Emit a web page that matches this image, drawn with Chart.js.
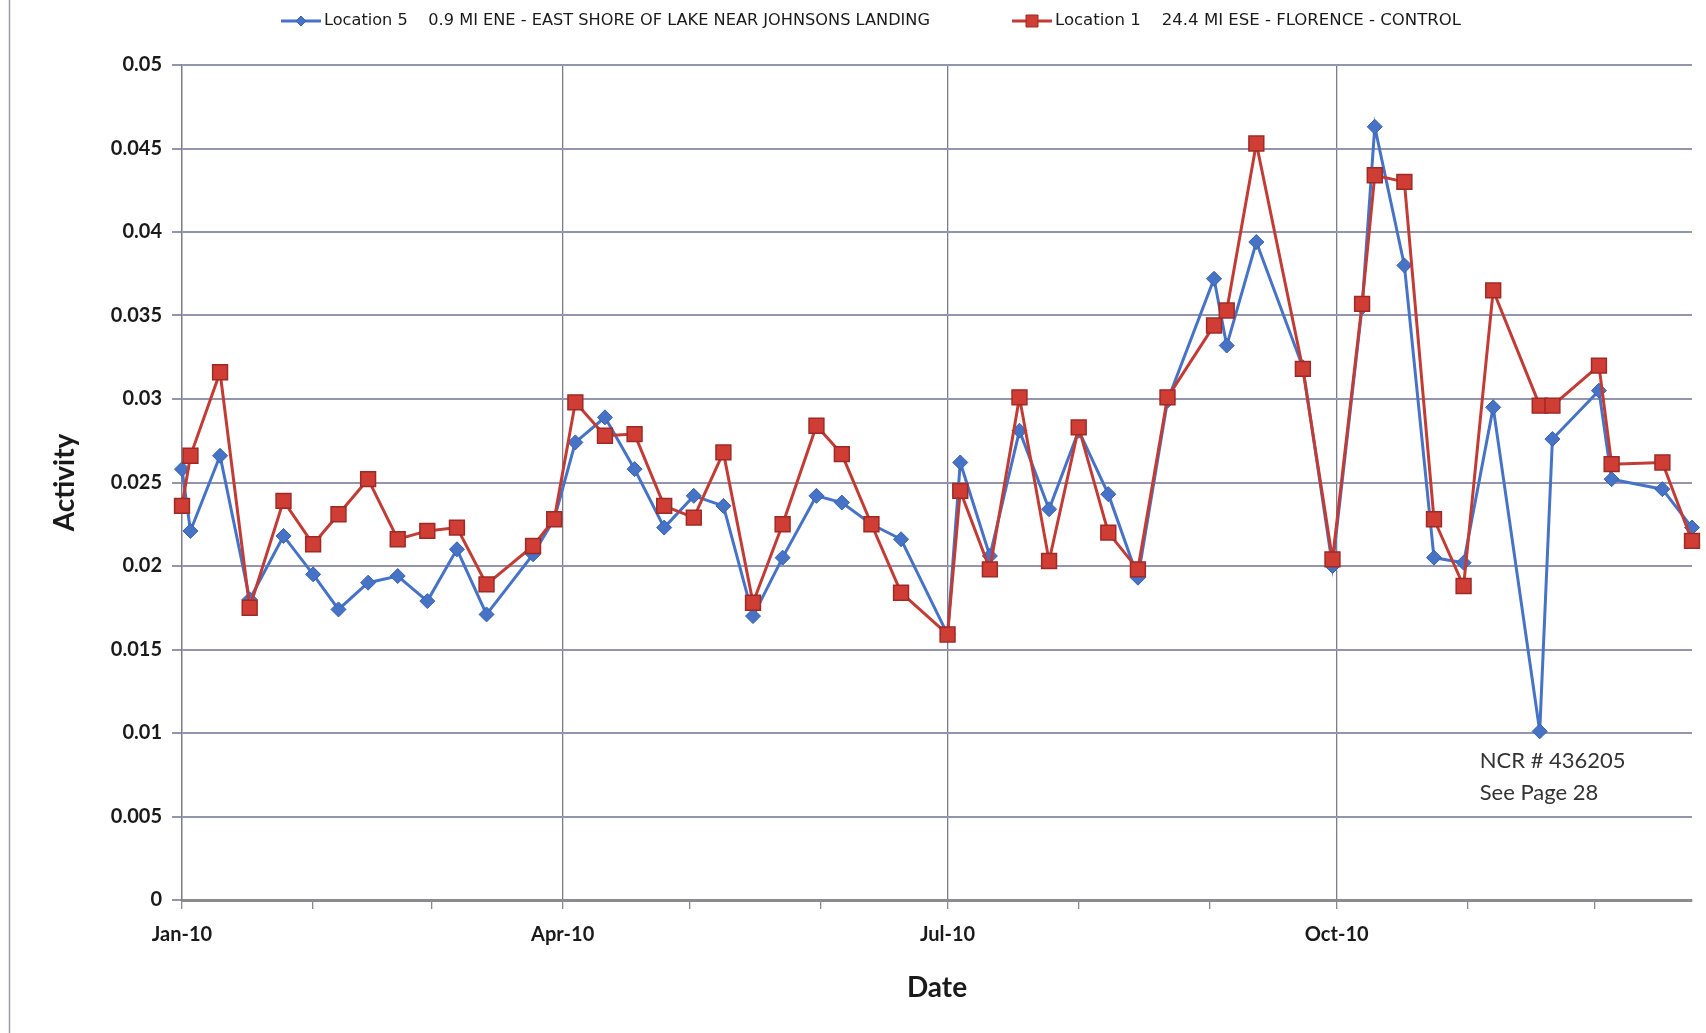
<!DOCTYPE html>
<html>
<head>
<meta charset="utf-8">
<title>Activity</title>
<script src="https://cdn.jsdelivr.net/npm/chart.js@4.4.0/dist/chart.umd.min.js"></script>
<style>
  html, body { margin: 0; padding: 0; background: #fff; }
</style>
</head>
<body>
<canvas id="g-activity" width="1706" height="1033"></canvas>
<script>
var sampleDates = [
    '2010-01-01', '2010-01-03', '2010-01-10', '2010-01-17', '2010-01-25', '2010-02-01', '2010-02-07', '2010-02-14',
    '2010-02-21', '2010-02-28', '2010-03-07', '2010-03-14', '2010-03-25', '2010-03-30', '2010-04-04', '2010-04-11',
    '2010-04-18', '2010-04-25', '2010-05-02', '2010-05-09', '2010-05-16', '2010-05-23', '2010-05-31', '2010-06-06',
    '2010-06-13', '2010-06-20', '2010-07-01', '2010-07-04', '2010-07-11', '2010-07-18', '2010-07-25', '2010-08-01',
    '2010-08-08', '2010-08-15', '2010-08-22', '2010-09-02', '2010-09-05', '2010-09-12', '2010-09-23', '2010-09-30',
    '2010-10-07', '2010-10-10', '2010-10-17', '2010-10-24', '2010-10-31', '2010-11-07', '2010-11-18', '2010-11-21',
    '2010-12-02', '2010-12-05', '2010-12-17', '2010-12-24'
];
var location5 = [
    0.0258, 0.0221, 0.0266, 0.0180, 0.0218, 0.0195, 0.0174, 0.0190, 0.0194, 0.0179, 0.0210, 0.0171, 0.0207,
    0.0228, 0.0274, 0.0289, 0.0258, 0.0223, 0.0242, 0.0236, 0.0170, 0.0205, 0.0242, 0.0238, 0.0225, 0.0216,
    0.0159, 0.0262, 0.0206, 0.0281, 0.0234, 0.0281, 0.0243, 0.0193, 0.0299, 0.0372, 0.0332, 0.0394, 0.0319,
    0.0200, 0.0355, 0.0463, 0.0380, 0.0205, 0.0202, 0.0295, 0.0101, 0.0276, 0.0305, 0.0252, 0.0246, 0.0223
];
var location1 = [
    0.0236, 0.0266, 0.0316, 0.0175, 0.0239, 0.0213, 0.0231, 0.0252, 0.0216, 0.0221, 0.0223, 0.0189, 0.0212,
    0.0228, 0.0298, 0.0278, 0.0279, 0.0236, 0.0229, 0.0268, 0.0178, 0.0225, 0.0284, 0.0267, 0.0225, 0.0184,
    0.0159, 0.0245, 0.0198, 0.0301, 0.0203, 0.0283, 0.0220, 0.0198, 0.0301, 0.0344, 0.0353, 0.0453, 0.0318,
    0.0204, 0.0357, 0.0434, 0.0430, 0.0228, 0.0188, 0.0365, 0.0296, 0.0296, 0.0320, 0.0261, 0.0262, 0.0215
];
var seriesNames = [
    'Location 5    0.9 MI ENE - EAST SHORE OF LAKE NEAR JOHNSONS LANDING',
    'Location 1    24.4 MI ESE - FLORENCE - CONTROL'
];
var quarterLabels = ['Jan-10', 'Apr-10', 'Jul-10', 'Oct-10'];
var yTicks = [0, 0.005, 0.01, 0.015, 0.02, 0.025, 0.03, 0.035, 0.04, 0.045, 0.05];
var noteDate = '2010-11-18';
var noteLines = ['NCR # 436205', 'See Page 28'];

var DAY = 86400000;
var yearStart = Date.UTC(2010, 0, 1);
function dayOf(s) {
    var p = s.split('-');
    return (Date.UTC(+p[0], +p[1] - 1, +p[2]) - yearStart) / DAY;
}
var xs = sampleDates.map(dayOf);
var monthStarts = [];
for (var m = 0; m < 12; m++) monthStarts.push((Date.UTC(2010, m, 1) - yearStart) / DAY);

function quarterOf(v) {
    var i = monthStarts.indexOf(v);
    return (i >= 0 && i % 3 === 0) ? i / 3 : -1;
}
function points(values) {
    return values.map(function (v, i) { return { x: xs[i], y: v }; });
}

var BLUE = '#4673c6';
var RED = '#c23b35';
var FONT = 'Lato, "Open Sans", sans-serif';

// white page + the thin frame line on the left
var framePlugin = {
    id: 'frame',
    beforeDraw: function (chart) {
        var ctx = chart.ctx;
        ctx.save();
        ctx.fillStyle = '#ffffff';
        ctx.fillRect(0, 0, chart.width, chart.height);
        ctx.strokeStyle = '#9a9aa8';
        ctx.lineWidth = 1.5;
        ctx.beginPath();
        ctx.moveTo(9.5, 0);
        ctx.lineTo(9.5, chart.height);
        ctx.stroke();
        ctx.restore();
    }
};

function drawMarker(ctx, style, x, y, r, fill, stroke) {
    ctx.fillStyle = fill;
    ctx.strokeStyle = stroke;
    ctx.lineWidth = 1;
    ctx.beginPath();
    if (style === 'rect') {
        ctx.rect(x - r, y - r, 2 * r, 2 * r);
    } else {
        ctx.moveTo(x, y - r);
        ctx.lineTo(x + r, y);
        ctx.lineTo(x, y + r);
        ctx.lineTo(x - r, y);
        ctx.closePath();
    }
    ctx.fill();
    ctx.stroke();
}

// legend with line + marker samples, like the spreadsheet legend
var legendPlugin = {
    id: 'lineLegend',
    afterDraw: function (chart) {
        var ctx = chart.ctx;
        var textWidths = [606, 406];
        var x = 281, y = 21, lineLen = 40, gap = 82;
        ctx.save();
        chart.data.datasets.forEach(function (ds, i) {
            ctx.strokeStyle = ds.borderColor;
            ctx.lineWidth = 3;
            ctx.beginPath();
            ctx.moveTo(x, y);
            ctx.lineTo(x + lineLen, y);
            ctx.stroke();
            drawMarker(ctx, ds.pointStyle, x + lineLen / 2, y, ds.pointStyle === 'rect' ? 6 : 5,
                ds.pointBackgroundColor, ds.pointBorderColor);

            ctx.font = '15px "Liberation Sans Narrow", "DejaVu Sans Condensed", sans-serif';
            ctx.fillStyle = '#1a1a1a';
            ctx.textBaseline = 'middle';
            ctx.textAlign = 'left';
            var w = ctx.measureText(ds.label).width;
            ctx.save();
            ctx.translate(x + lineLen + 3, y);
            ctx.scale(textWidths[i] / w, 1);
            ctx.fillText(ds.label, 0, 0);
            ctx.restore();
            x += lineLen + 3 + textWidths[i] + gap;
        });
        ctx.restore();
    }
};

// the note under the low Location 5 result
var notePlugin = {
    id: 'note',
    afterDatasetsDraw: function (chart) {
        var meta = chart.getDatasetMeta(0);
        var pt = meta.data[sampleDates.indexOf(noteDate)];
        if (!pt) return;
        var ctx = chart.ctx;
        ctx.save();
        ctx.font = '22px ' + FONT;
        ctx.fillStyle = '#333333';
        ctx.textAlign = 'left';
        ctx.textBaseline = 'middle';
        ctx.fillText(noteLines[0], pt.x - 60, pt.y + 30);
        ctx.fillText(noteLines[1], pt.x - 60, pt.y + 62);
        ctx.restore();
    }
};

var ctxActivity = document.getElementById('g-activity');

var gActivity = new Chart(ctxActivity, {
    type: 'line',
    data: {
        datasets: [
            {
                label: seriesNames[0],
                data: points(location5),
                order: 2,
                clip: false,
                borderColor: BLUE,
                borderWidth: 3,
                backgroundColor: BLUE,
                pointStyle: 'rectRot',
                pointRadius: 7.5,
                pointBackgroundColor: BLUE,
                pointBorderColor: '#3a62ad',
                pointBorderWidth: 1,
                tension: 0
            },
            {
                label: seriesNames[1],
                data: points(location1),
                order: 1,
                clip: false,
                borderColor: RED,
                borderWidth: 3,
                backgroundColor: RED,
                pointStyle: 'rect',
                pointRadius: 10.5,
                pointBackgroundColor: '#cf3d35',
                pointBorderColor: '#9e2a26',
                pointBorderWidth: 1.5,
                tension: 0
            }
        ]
    },

    options: {
        responsive: false,
        animation: false,
        layout: { padding: { left: 10, right: 14, top: 65, bottom: 0 } },
        plugins: {
            legend: { display: false },
            tooltip: { enabled: false }
        },
        scales: {
            x: {
                type: 'linear',
                min: 0,
                max: xs[xs.length - 1],
                afterBuildTicks: function (scale) {
                    scale.ticks = monthStarts.map(function (v) { return { value: v }; });
                },
                afterFit: function (scale) { scale.height = 133; },
                ticks: {
                    autoSkip: false,
                    maxRotation: 0,
                    padding: 14,
                    color: '#1a1a1a',
                    font: { family: FONT, size: 20, weight: 'bold' },
                    callback: function (v) {
                        var q = quarterOf(v);
                        return q >= 0 ? quarterLabels[q] : '';
                    }
                },
                grid: {
                    tickLength: 9,
                    lineWidth: 1.3,
                    color: function (c) {
                        return (c.tick && quarterOf(c.tick.value) >= 0) ? '#7c7c8a' : 'rgba(0,0,0,0)';
                    },
                    tickColor: '#8a8a94'
                },
                border: { color: '#8c8c90', width: 3 },
                title: {
                    display: true,
                    text: 'Date',
                    color: '#1a1a1a',
                    font: { family: FONT, size: 28, weight: 'bold' },
                    padding: { top: 0, bottom: 28 }
                }
            },
            y: {
                min: 0,
                max: 0.05,
                afterBuildTicks: function (scale) {
                    scale.ticks = yTicks.map(function (v) { return { value: v }; });
                },
                afterFit: function (scale) { scale.width = 172; },
                ticks: {
                    padding: 10,
                    color: '#1a1a1a',
                    font: { family: FONT, size: 20, weight: 'bold' },
                    callback: function (v) { return String(+v.toFixed(3)); }
                },
                grid: {
                    tickLength: 10,
                    lineWidth: 2,
                    color: '#9395ae'
                },
                border: { color: '#7c7c8a', width: 1.3 },
                title: {
                    display: true,
                    text: 'Activity',
                    color: '#1a1a1a',
                    font: { family: FONT, size: 28, weight: 'bold' },
                    padding: { top: 38, bottom: 0 }
                }
            }
        }
    },

    plugins: [framePlugin, legendPlugin, notePlugin]
});
</script>
</body>
</html>
